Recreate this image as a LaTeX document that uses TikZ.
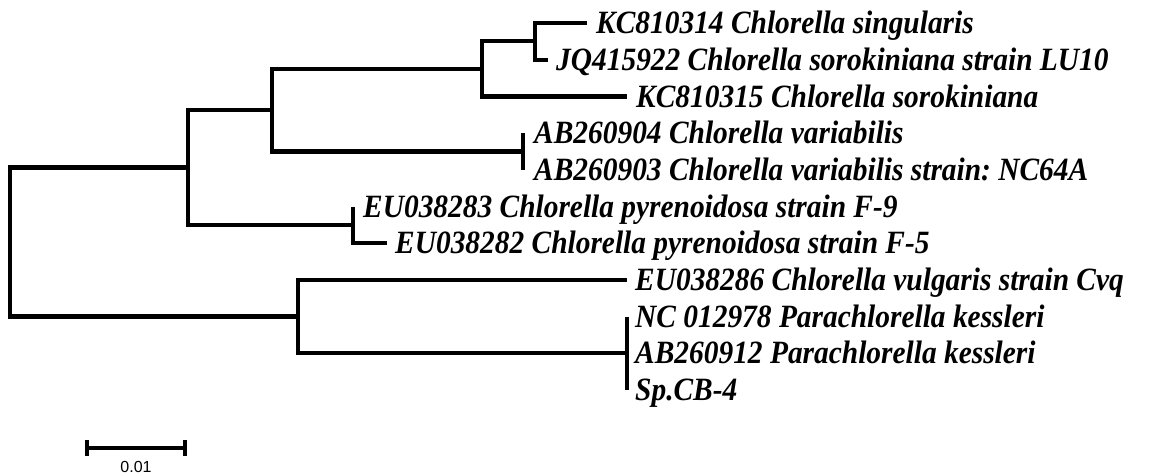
\documentclass[tikz,border=0pt]{standalone}
\usepackage{graphicx}
\usepackage{fontspec}
\setmainfont{Liberation Serif}
\newfontfamily\scalefont{Liberation Sans}
\frenchspacing
\newcommand{\taxon}[1]{\scalebox{0.905}[1]{#1}}
\begin{document}
\begin{tikzpicture}[x=1pt,y=-1pt,
  branch/.style={line width=4.3pt,line join=miter,line cap=butt},
  lab/.style={anchor=base west,inner sep=0pt,font=\fontsize{32.5}{35}\selectfont\bfseries\itshape},
  barlab/.style={anchor=base,inner sep=0pt,font=\fontsize{16}{18}\selectfont\scalefont}]
\useasboundingbox (0,0) rectangle (1149,475);
% row heights
\def\ra{23}\def\rb{59.7}\def\rc{96.4}\def\rd{133.1}\def\re{169.8}\def\rf{206.5}
\def\rg{243.2}\def\rh{279.9}\def\ri{316.6}\def\rj{353.3}\def\rk{390}
\def\bs{10.6}
% internal nodes
\coordinate (root) at (10,242);
\coordinate (B) at (188,167.5);
\coordinate (C) at (272,110.2);
\coordinate (D) at (482,68.9);
\coordinate (D1) at (535,41.3);
\coordinate (V) at (523,151.5);
\coordinate (P) at (353,224.9);
\coordinate (E) at (298,316.6);
\coordinate (F) at (627,353.3);
% tips
\coordinate (t1) at (587,\ra);
\coordinate (t2) at (548,\rb);
\coordinate (t3) at (627,\rc);
\coordinate (t4) at (523,\rd);
\coordinate (t5) at (523,\re);
\coordinate (t6) at (353,\rf);
\coordinate (t7) at (387,\rg);
\coordinate (t8) at (627,\rh);
\coordinate (t9) at (627,\ri);
\coordinate (t10) at (627,\rj);
\coordinate (t11) at (627,\rk);
% branches
\draw[branch] (B) -| (root) |- (E);
\draw[branch] (C) -| (B) |- (P);
\draw[branch] (D) -| (C) |- (V);
\draw[branch] (D1) -| (D) |- (t3);
\draw[branch] (t1) -| (D1) |- (t2);
\draw[branch] (t4) -- (t5);
\draw[branch] (t6) -- (P) |- (t7);
\draw[branch] (t8) -| (E) |- (F);
\draw[branch] (t9) -- (t11);
% labels
\node[lab] (l1) at (596,\ra+\bs) {\taxon{KC810314 Chlorella singularis}};
\node[lab] (l2) at (556,\rb+\bs) {\taxon{JQ415922 Chlorella sorokiniana strain LU10}};
\node[lab] (l3) at (636,\rc+\bs) {\taxon{KC810315 Chlorella sorokiniana}};
\node[lab] (l4) at (534,\rd+\bs) {\taxon{AB260904 Chlorella variabilis}};
\node[lab] (l5) at (534,\re+\bs) {\taxon{AB260903 Chlorella variabilis strain: NC64A}};
\node[lab] (l6) at (363,\rf+\bs) {\taxon{EU038283 Chlorella pyrenoidosa strain F-9}};
\node[lab] (l7) at (395,\rg+\bs) {\taxon{EU038282 Chlorella pyrenoidosa strain F-5}};
\node[lab] (l8) at (635,\rh+\bs) {\taxon{EU038286 Chlorella vulgaris strain Cvq}};
\node[lab] (l9) at (635,\ri+\bs) {\taxon{NC 012978 Parachlorella kessleri}};
\node[lab] (l10) at (635,\rj+\bs) {\taxon{AB260912 Parachlorella kessleri}};
\node[lab] (l11) at (635,\rk+\bs) {\taxon{Sp.CB-4}};
% scale bar
\coordinate (s1) at (87,448);
\coordinate (s2) at (185,448);
\draw[branch] (s1) -- (s2);
\draw[branch] ([yshift=-8]s1) -- ([yshift=8]s1);
\draw[branch] ([yshift=-8]s2) -- ([yshift=8]s2);
\node[barlab] (sl) at (136,472) {0.01};
\end{tikzpicture}
\end{document}
